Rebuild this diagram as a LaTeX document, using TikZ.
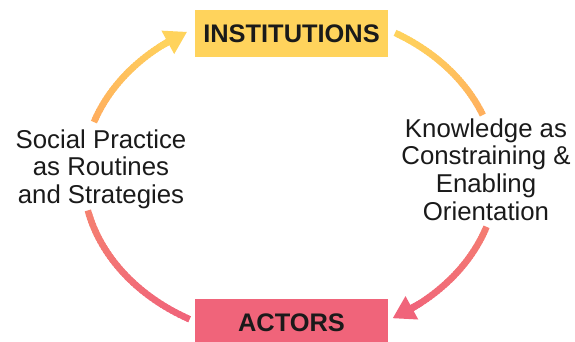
\documentclass[tikz,border=0pt]{standalone}
\usepackage{fontspec}
\setmainfont{Liberation Sans}
\usetikzlibrary{arrows.meta}
\definecolor{boxyellow}{RGB}{255,211,92}
\definecolor{boxpink}{RGB}{240,100,122}
\definecolor{txt}{RGB}{26,26,26}
\definecolor{cA}{RGB}{255,211,92}
\definecolor{cB}{RGB}{255,172,94}
\definecolor{cC}{RGB}{245,130,112}
\definecolor{cD}{RGB}{240,100,122}
\newcommand{\mycolat}[1]{%
  \pgfmathsetmacro{\yy}{#1}%
  \ifdim\yy pt<123pt
    \pgfmathsetmacro{\pp}{max(0,min(100,(\yy-33)/90*100))}%
    \colorlet{segc}{cB!\pp!cA}%
  \else\ifdim\yy pt<210pt
    \pgfmathsetmacro{\pp}{(\yy-123)/87*100}%
    \colorlet{segc}{cC!\pp!cB}%
  \else
    \pgfmathsetmacro{\pp}{min(100,(\yy-210)/110*100)}%
    \colorlet{segc}{cD!\pp!cC}%
  \fi\fi}
\newcommand{\mygradarc}[3]{%
  \foreach \i in {1,...,#3}{%
    \pgfmathsetmacro{\ta}{#1+(#2-#1)*(\i-1)/#3}%
    \pgfmathsetmacro{\tb}{#1+(#2-#1)*min(\i+0.6,#3)/#3}%
    \pgfmathsetmacro{\ym}{175+165*sin((\ta+\tb)/2)}%
    \mycolat{\ym}%
    \draw[arcline, draw=segc] ({290+207*cos(\ta)},{175+165*sin(\ta)}) -- ({290+207*cos(\tb)},{175+165*sin(\tb)});
  }}
\tikzset{
  arcline/.style={line width=6.5pt, line cap=butt},
  boxnode/.style={minimum width=193pt, minimum height=47pt, inner sep=0pt,
    font=\fontsize{25.4}{27}\selectfont\bfseries, text=txt},
  lbl/.style={align=center, text=txt, font=\fontsize{25.8}{27.6}\selectfont, inner sep=0pt},
  tip/.style={line width=6.5pt, -{Triangle[length=22pt,width=25pt]}}
}
\begin{document}
\begin{tikzpicture}[x=1pt,y=-1pt]
\useasboundingbox (0,0) rectangle (575,342);
\node[boxnode, fill=boxyellow] (inst) at (291.5,33.5) {INSTITUTIONS};
\node[boxnode, fill=boxpink] (act) at (291.5,322.5) {ACTORS};
\node[lbl] (left) at (101,169) {Social Practice\\as Routines\\and Strategies};
\node[lbl] (right) at (486,169.5) {Knowledge as\\Constraining \&\\Enabling\\Orientation};
% left arc (actors -> institutions)
\mygradarc{167.6}{119}{40}
\mygradarc{198.7}{234.3}{36}
\coordinate (la) at ({290+207*cos(231)},{175+165*sin(231)});
\coordinate (lt) at ({290+207*cos(240.2)},{175+165*sin(240.2)});
\draw[tip, draw=cA] (la) -- (lt);
% right arc (institutions -> actors)
\mygradarc{300.5}{338.7}{40}
\mygradarc{18.3}{54.4}{36}
\coordinate (ra) at ({290+207*cos(51)},{175+165*sin(51)});
\coordinate (rt) at ({290+207*cos(60.3)},{175+165*sin(60.3)});
\draw[tip, draw=cD] (ra) -- (rt);
\end{tikzpicture}
\end{document}
